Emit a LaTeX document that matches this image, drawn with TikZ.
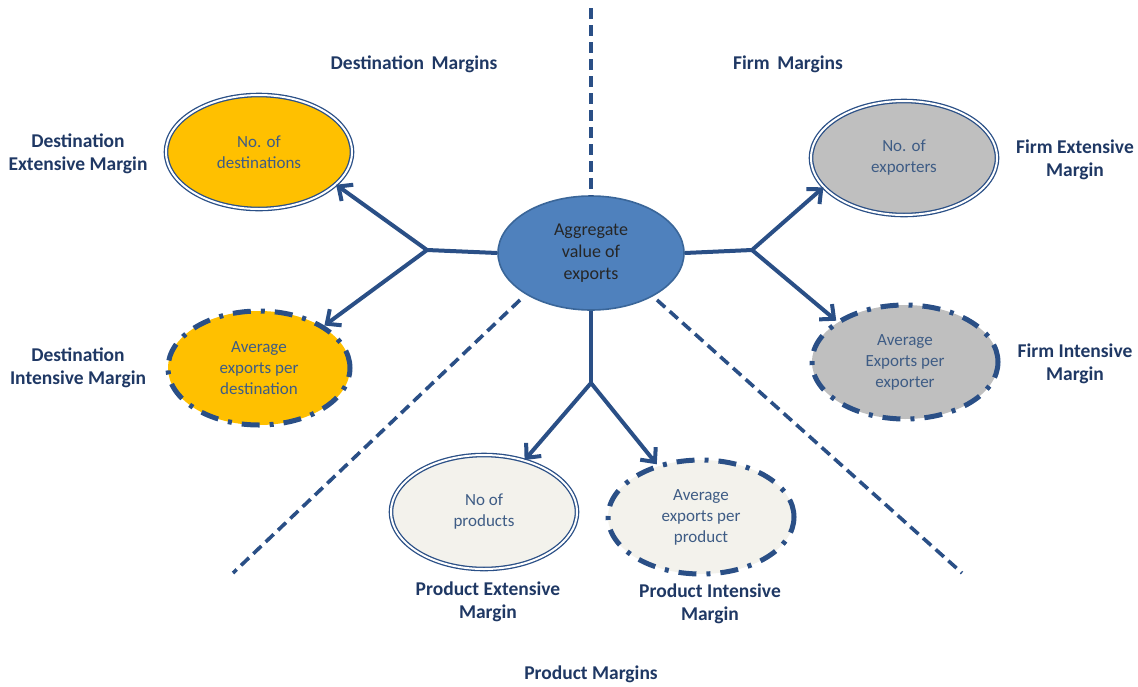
\documentclass[tikz,border=0pt]{standalone}
\usepackage{fontspec}
\setmainfont{Carlito}
\usetikzlibrary{shapes.geometric,arrows.meta}
\definecolor{navy}{HTML}{2A4F86}
\definecolor{labelblue}{HTML}{1F3864}
\definecolor{inner}{HTML}{3E5C85}
\definecolor{gold}{HTML}{FFC000}
\definecolor{silver}{HTML}{BFBFBF}
\definecolor{ivory}{HTML}{F3F2EC}
\definecolor{core}{HTML}{4F81BD}
\definecolor{coreedge}{HTML}{3A6699}
\begin{document}
\begin{tikzpicture}[x=1pt,y=-1pt,
  blob/.style={ellipse, minimum width=186pt, minimum height=114pt, inner sep=0pt,
    align=center, text=inner, font=\fontsize{17}{21}\selectfont},
  twin/.style={blob, draw=navy, line width=1.3pt, double=white, double distance=2pt},
  broken/.style={blob, draw=navy, line width=5pt, dash pattern=on 18pt off 10pt on 4pt off 10pt},
  tag/.style={align=center, text=labelblue, font=\fontsize{19.5}{23.5}\bfseries\selectfont},
  divider/.style={draw=navy, line width=3.6pt, dash pattern=on 11pt off 6pt},
  link/.style={draw=navy, line width=4pt},
  arrow/.style={link, -{Straight Barb[length=11pt,width=20pt,line width=4pt]}}]
\useasboundingbox (0,0) rectangle (1138,686);

% separators between the three groups of margins
\coordinate (topend) at (591,8);
\coordinate (lstart) at (520,300);
\coordinate (lend) at (233,573);
\coordinate (rstart) at (657,300);
\coordinate (rend) at (962,573);

% centre
\node[blob, fill=core, draw=coreedge, line width=1.6pt, text=black!85,
      font=\fontsize{18}{22}\selectfont] (agg) at (591,253) {Aggregate\\value of\\exports};

\draw[divider] (topend) -- (agg.north);
\draw[divider] (lstart) -- (lend);
\draw[divider] (rstart) -- (rend);

% outer ellipses
\node[twin, fill=gold] (dext) at (259,152) {No. of\\destinations};
\node[broken, fill=gold, minimum width=182pt] (dint) at (259,368) {Average\\exports per\\destination};
\node[twin, fill=silver] (fext) at (904,158) {No. of\\exporters};
\node[broken, fill=silver] (fint) at (905,362) {Average\\Exports per\\exporter};
\node[twin, fill=ivory] (pext) at (484,512) {No of\\products};
\node[broken, fill=ivory] (pint) at (701,517) {Average\\exports per\\product};

% branching connectors
\coordinate (lj) at (427,250);
\coordinate (rj) at (752,250);
\coordinate (bj) at (591,383);
\draw[link] (agg.west) -- (lj);
\draw[arrow] (lj) -- (dext.-23);
\draw[arrow] (lj) -- (dint.33);
\draw[link] (agg.east) -- (rj);
\draw[arrow] (rj) -- (fext.-160);
\draw[arrow] (rj) -- (fint.149);
\draw[link] (agg.south) -- (bj);
\draw[arrow] (bj) -- (pext.52);
\draw[arrow] (bj) -- (pint.130);

% labels
\node[tag] (tdm) at (414,64) {Destination\, Margins};
\node[tag] (tfm) at (788,64) {Firm\, Margins};
\node[tag] (tpm) at (591,674) {Product Margins};
\node[tag] (tde) at (78,154) {Destination\\Extensive Margin};
\node[tag] (tdi) at (78,368) {Destination\\Intensive Margin};
\node[tag] (tfe) at (1075,160) {Firm Extensive\\Margin};
\node[tag] (tfi) at (1075,364) {Firm Intensive\\Margin};
\node[tag] (tpe) at (488,602) {Product Extensive\\Margin};
\node[tag] (tpi) at (710,604) {Product Intensive\\Margin};
\end{tikzpicture}
\end{document}
